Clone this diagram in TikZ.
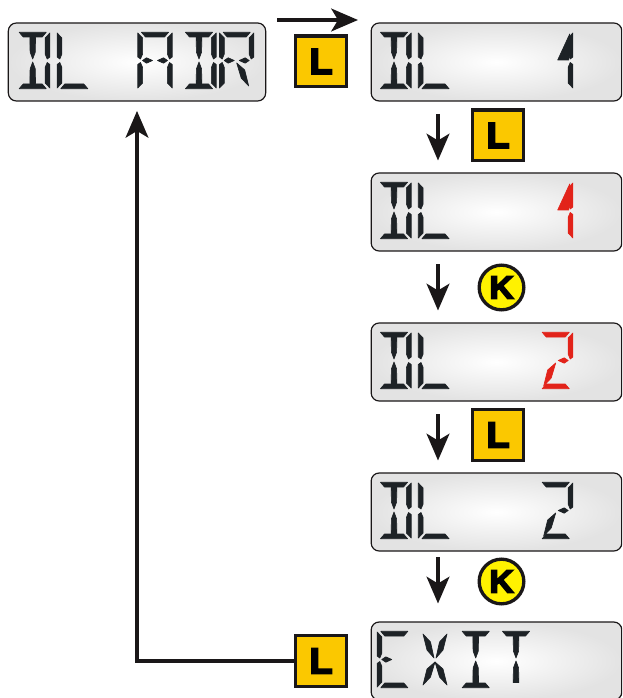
\documentclass[tikz,border=0pt]{standalone}
\usepackage{fontspec}
\usetikzlibrary{arrows.meta}
\newfontfamily\keyfont[FakeBold=5,FakeStretch=1.05]{Liberation Sans Bold}
\definecolor{ink}{HTML}{1D2226}
\definecolor{lcdred}{HTML}{E2231A}
\definecolor{keyorange}{HTML}{FBC800}
\definecolor{keyyellow}{HTML}{FFF200}
\definecolor{arrowblack}{HTML}{1A1718}
\tikzset{
  lcdpanel/.style={draw=arrowblack,line width=.9pt,rounded corners=6pt,inner color=white,outer color=black!11,minimum height=58.5pt},
  keyl/.style={draw=arrowblack,fill=keyorange,line width=2.5pt,minimum size=38pt,inner sep=0pt,font=\keyfont\fontsize{27pt}{27pt}\selectfont},
  keyk/.style={circle,draw=arrowblack,fill=keyyellow,line width=2.5pt,minimum size=33.5pt,inner sep=0pt,font=\keyfont\fontsize{24pt}{24pt}\selectfont},
  flow/.style={draw=arrowblack,line width=3pt,-{Stealth[length=20pt,width=17pt,inset=5pt]}}
}
\begin{document}
\begin{tikzpicture}[x=.75pt,y=-.75pt]
\newcommand\segtop{(1.5,.3) -- (28.5,.3) -- (24.5,5) -- (5.5,5) -- cycle}
\newcommand\segbot{(1.5,56.7) -- (28.5,56.7) -- (24.5,52) -- (5.5,52) -- cycle}
\newcommand\seglu{(-2.2,1) -- (2.6,6) -- (2.6,22) -- (.5,27) -- (-2.2,25) -- cycle}
\newcommand\segll{(-2.2,32.5) -- (.5,30.5) -- (2.6,35.5) -- (2.6,51) -- (-2.2,56) -- cycle}
\newcommand\segru{(32.2,1) -- (27.4,6) -- (27.4,22) -- (29.5,27) -- (32.2,25) -- cycle}
\newcommand\segrl{(32.2,32.5) -- (29.5,30.5) -- (27.4,35.5) -- (27.4,51) -- (32.2,56) -- cycle}
\newcommand\segcu{(12.2,5.5) -- (17.8,5.5) -- (17.6,20) -- (15,27) -- (12.4,20) -- cycle}
\newcommand\segcl{(15,30) -- (17.6,37) -- (17.8,51.5) -- (12.2,51.5) -- (12.4,37) -- cycle}
\newcommand\segml{(2.5,28.5) -- (6.5,25.8) -- (12.5,28.5) -- (6.5,31.2) -- cycle}
\newcommand\segmr{(17.5,28.5) -- (23.5,25.8) -- (27.5,28.5) -- (23.5,31.2) -- cycle}
\newcommand\segdul{(3,3) -- (10.5,11) -- (14,27) -- (7,19) -- cycle}
\newcommand\segdur{(27,3) -- (19.5,11) -- (16,27) -- (23,19) -- cycle}
\newcommand\segdll{(3,54) -- (10.5,46) -- (15,31) -- (7,38) -- cycle}
\newcommand\segdlr{(27,54) -- (19.5,46) -- (15,31) -- (23,38) -- cycle}
\newcommand\segflag{(29,2) -- (17,28) -- (28,28) -- cycle}
\newcommand\glyph[3]{
  \begin{scope}[shift={(#1,#2)}]
  \foreach \s in {#3} {\expandafter\filldraw\csname seg\s\endcsname;}
  \end{scope}
}
\clip (0,0) rectangle (622,698);

\node (dladr) at (137,62) [lcdpanel,minimum width=193pt] {};
\foreach \name/\y in {dlfirst/62,dlone/212,dltwo/362,dlback/512,exit/661} {
    \node (\name) at (496.5,\y) [lcdpanel,minimum width=188pt] {};
}

\node (keyadr) at (321,61.5) [keyl] {L};
\node (keyone) at (498,135.5) [keyl] {L};
\node (keyok) at (498,435) [keyl] {L};
\node (keyexit) at (321,661) [keyl] {L};
\node (keyup) at (501.5,287.5) [keyk] {K};
\node (keydown) at (501.5,581.5) [keyk] {K};

\coordinate (topstart) at (277,20);
\coordinate (topend) at (358,20);
\draw [flow] (topstart) -- (topend);
\foreach \y in {114,264,414,557} {
    \coordinate (downstart) at (438,\y);
    \coordinate (downend) at (438,\y+46.5);
    \draw [flow] (downstart) -- (downend);
}
\draw [flow,shorten >=7pt] (keyexit.west) -| (dladr.south);

\begin{scope}[ink,line width=.5pt,line join=round]
\glyph{17.7}{32}{top,cu,cl,bot,ru,rl}
\glyph{59.3}{32}{lu,ll,bot}
\glyph{140}{32}{top,lu,ll,ru,rl,ml,mr}
\glyph{184}{32}{top,cu,cl,bot,ru,rl}
\glyph{221.7}{32}{top,lu,ll,ru,ml,mr,dlr}
\foreach \y in {32,182,332,482} {
    \glyph{379}{\y}{top,cu,cl,bot,ru,rl}
    \glyph{420.5}{\y}{lu,ll,bot}
}
\glyph{540.7}{32}{ru,rl,flag}
\glyph{540.7}{482}{top,ru,mr,dll,bot}
\glyph{379.3}{631}{top,lu,ll,ml,bot}
\glyph{420}{631}{dul,dur,dll,dlr}
\glyph{460.7}{631}{top,cu,cl,bot}
\glyph{501}{631}{top,cu,cl}
\end{scope}
\begin{scope}[lcdred,line width=.5pt,line join=round]
\glyph{540.7}{182}{ru,rl,flag}
\glyph{540.7}{332}{top,ru,mr,dll,bot}
\end{scope}
\end{tikzpicture}
\end{document}
